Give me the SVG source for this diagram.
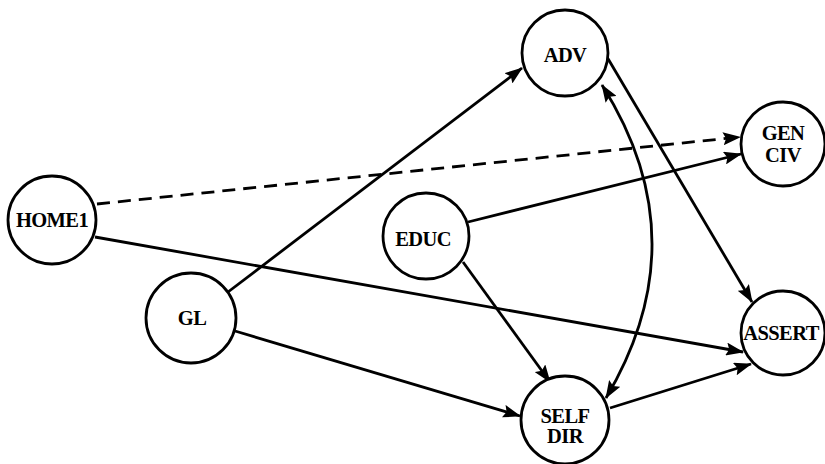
<svg xmlns="http://www.w3.org/2000/svg" width="825" height="464" viewBox="0 0 825 464">
  <style>
    .node circle { fill: #fff; stroke: #000; stroke-width: 2.8; }
    .node text { font-family: "Liberation Serif", "Times New Roman", serif; font-weight: bold; font-size: 20.5px; text-anchor: middle; fill: #000; letter-spacing: -0.6px; }
    .edge { fill: none; stroke: #000; stroke-width: 2.8; marker-end: url(#arrow); }
    .dashed { stroke-dasharray: 13 8; }
  </style>
  <defs>
    <marker id="arrow" viewBox="0 0 18 13" refX="17" refY="6.5" markerWidth="18" markerHeight="13" markerUnits="userSpaceOnUse" orient="auto-start-reverse">
      <path d="M0,0 L18,6.5 L0,13 L3,6.5 Z" fill="#000"/>
    </marker>
  </defs>
  <rect width="825" height="464" fill="#fff"/>

  <g id="connectors">
    <line class="edge" x1="228" y1="292" x2="522" y2="68"/>
    <line class="edge" x1="235" y1="331" x2="520" y2="416"/>
    <line class="edge dashed" x1="97" y1="204" x2="740" y2="137"/>
    <line class="edge" x1="95" y1="237" x2="743" y2="352"/>
    <line class="edge" x1="468" y1="222" x2="741" y2="154"/>
    <line class="edge" x1="463" y1="262" x2="550" y2="382"/>
    <line class="edge" x1="607" y1="57" x2="752" y2="302"/>
    <line class="edge" x1="610" y1="408" x2="751" y2="364"/>
    <path class="edge" d="M602,85 Q700,240 606,398" marker-start="url(#arrow)"/>
  </g>

  <g id="adv" class="node">
    <circle cx="565" cy="53" r="43"/>
    <text x="565" y="62">ADV</text>
  </g>
  <g id="home1" class="node">
    <circle cx="52" cy="220" r="44"/>
    <text x="52" y="227">HOME1</text>
  </g>
  <g id="gen-civ" class="node">
    <circle cx="783" cy="144" r="42"/>
    <text x="783" y="140">GEN</text>
    <text x="783" y="162">CIV</text>
  </g>
  <g id="educ" class="node">
    <circle cx="426" cy="236" r="43"/>
    <text x="423" y="246">EDUC</text>
  </g>
  <g id="gl" class="node">
    <circle cx="191" cy="318" r="45"/>
    <text x="192" y="325">GL</text>
  </g>
  <g id="self-dir" class="node">
    <circle cx="565" cy="420" r="44"/>
    <text x="565" y="423">SELF</text>
    <text x="565" y="443">DIR</text>
  </g>
  <g id="assert" class="node">
    <circle cx="783" cy="333" r="42"/>
    <text x="781" y="340">ASSERT</text>
  </g>
</svg>
